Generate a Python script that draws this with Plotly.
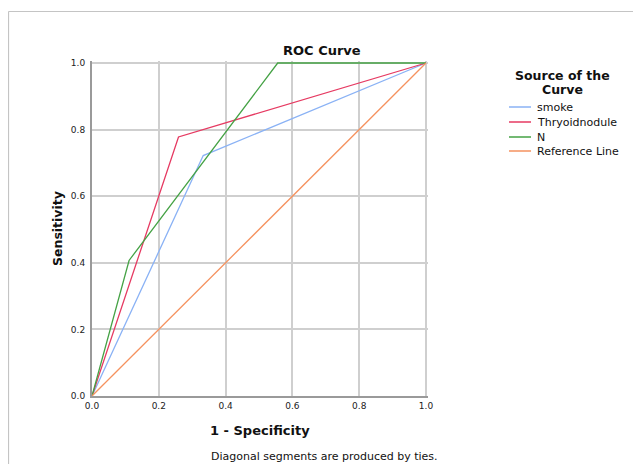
import plotly.graph_objects as go

series_names = ["smoke", "Thryoidnodule", "N", "Reference Line"]
smoke_x = [0.0, 0.333, 1.0]
smoke_y = [0.0, 0.722, 1.0]
thyroid_x = [0.0, 0.259, 1.0]
thyroid_y = [0.0, 0.778, 1.0]
n_x = [0.0, 0.111, 0.556, 1.0]
n_y = [0.0, 0.407, 1.0, 1.0]
ref_x = [0.0, 1.0]
ref_y = [0.0, 1.0]
tick_vals = [0.0, 0.2, 0.4, 0.6, 0.8, 1.0]
tick_text = ["0.0", "0.2", "0.4", "0.6", "0.8", "1.0"]

colors = ["#8ab2f5", "#e63a62", "#45a245", "#f5925f"]
FONT = "DejaVu Sans"
TXT = "#111111"

W, H = 633, 456          # page adds 8px body margin
L, R, T, B = 84, 213, 53, 68
PW, PH = W - L - R, H - T - B
OFF = 8


def px(sx):
    return (sx - OFF - L) / PW


def py(sy):
    return (H - B - (sy - OFF)) / PH


fig = go.Figure()
for name, xs, ys, c in zip(series_names,
                           [smoke_x, thyroid_x, n_x, ref_x],
                           [smoke_y, thyroid_y, n_y, ref_y],
                           colors):
    fig.add_trace(go.Scatter(x=xs, y=ys, mode="lines", name=name,
                             line=dict(color=c, width=1.3), showlegend=False))

axis_common = dict(range=[0, 1.006], tickvals=tick_vals, ticktext=tick_text,
                   showgrid=True, gridcolor="#cfcfcf", gridwidth=1.5,
                   zeroline=False, showline=True, linecolor="#9a9a9a",
                   linewidth=2, ticks="",
                   tickfont=dict(size=9, color="#222", family=FONT))

shapes = [
    dict(type="line", xref="paper", yref="paper",
         x0=px(8.5), x1=px(700), y0=py(11.5), y1=py(11.5),
         line=dict(color="#c4c4c4", width=1.2)),
    dict(type="line", xref="paper", yref="paper",
         x0=px(8.5), x1=px(8.5), y0=py(11.5), y1=py(520),
         line=dict(color="#c4c4c4", width=1.2)),
]

annotations = [
    dict(text="<b>ROC Curve</b>", x=px(322), y=py(51)),
    dict(text="<b>Source of the</b>", x=px(562), y=py(75), size=12.5),
    dict(text="<b>Curve</b>", x=px(562), y=py(89), size=12.5),
    dict(text="<b>Sensitivity</b>", x=px(57), y=py(229), textangle=-90, size=12.5),
    dict(text="<b>1 - Specificity</b>", x=px(260), y=py(430)),
    dict(text="Diagonal segments are produced by ties.", x=px(324), y=py(456), size=11),
]

# legend entries (drawn manually for exact spacing)
legend_y = [107, 122, 137, 151]
for name, c, ly in zip(series_names, colors, legend_y):
    shapes.append(dict(type="line", xref="paper", yref="paper",
                       x0=px(509), x1=px(531), y0=py(ly), y1=py(ly),
                       line=dict(color=c, width=1.5)))
    annotations.append(dict(text=name, x=px(535), y=py(ly), xanchor="left", size=11))

ann_objs = []
for a in annotations:
    ann_objs.append(dict(
        text=a["text"], x=a["x"], y=a["y"], xref="paper", yref="paper",
        showarrow=False, xanchor=a.get("xanchor", "center"), yanchor="middle",
        textangle=a.get("textangle", 0), align="center",
        font=dict(size=a.get("size", 13), family=FONT, color=TXT)))

fig.update_layout(
    width=W, height=H,
    margin=dict(l=L, r=R, t=T, b=B, pad=0),
    plot_bgcolor="white", paper_bgcolor="white",
    font=dict(family=FONT, color=TXT),
    xaxis=dict(**axis_common, ticklabelstandoff=0),
    yaxis=dict(**axis_common, ticklabelstandoff=3),
    showlegend=False,
    shapes=shapes,
    annotations=ann_objs,
)

fig.write_html("out.html")
